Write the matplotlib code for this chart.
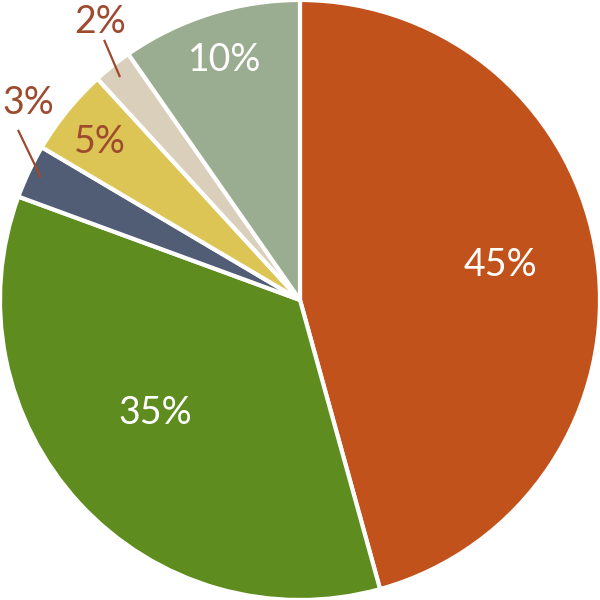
import matplotlib.pyplot as plt

# Data (wedge sizes, labels as printed)
shares = [45.7, 34.9, 2.9, 4.7, 2.1, 9.7]
labels = ["45%", "35%", "3%", "5%", "2%", "10%"]
colors = ["#C2521B", "#5E8C1F", "#515C75", "#DCC455", "#D9CFBA", "#9AAD90"]

# label layout (axes data coords, pie radius = 1)
label_xy = [(0.667, 0.117), (-0.483, -0.377), (-0.905, 0.657),
            (-0.667, 0.527), (-0.667, 0.927), (-0.25, 0.80)]
brown = "#9E4A2E"
label_color = ["white", "white", brown, brown, brown, "white"]
leaders = [((-0.94, -0.863), (0.567, 0.407)),
           ((-0.653, -0.60), (0.867, 0.743))]

fig = plt.figure(figsize=(6, 6), dpi=100)
ax = fig.add_axes([0, 0, 1, 1])

wedges, _ = ax.pie(
    shares,
    colors=colors,
    startangle=90,
    counterclock=False,
    radius=1.0,
    wedgeprops=dict(edgecolor="white", linewidth=3),
)

for lab, (x, y), c in zip(labels, label_xy, label_color):
    ax.text(x, y, lab, ha="center", va="center", color=c,
            fontsize=27, family=["Lato", "DejaVu Sans"])

for xs, ys in leaders:
    ax.plot(xs, ys, color=brown, linewidth=1.6, solid_capstyle="butt")

ax.set_xlim(-1.0, 1.0)
ax.set_ylim(-1.0, 1.0)
ax.set_aspect("equal")
ax.axis("off")

plt.savefig("out.png", dpi=100, facecolor="white")
